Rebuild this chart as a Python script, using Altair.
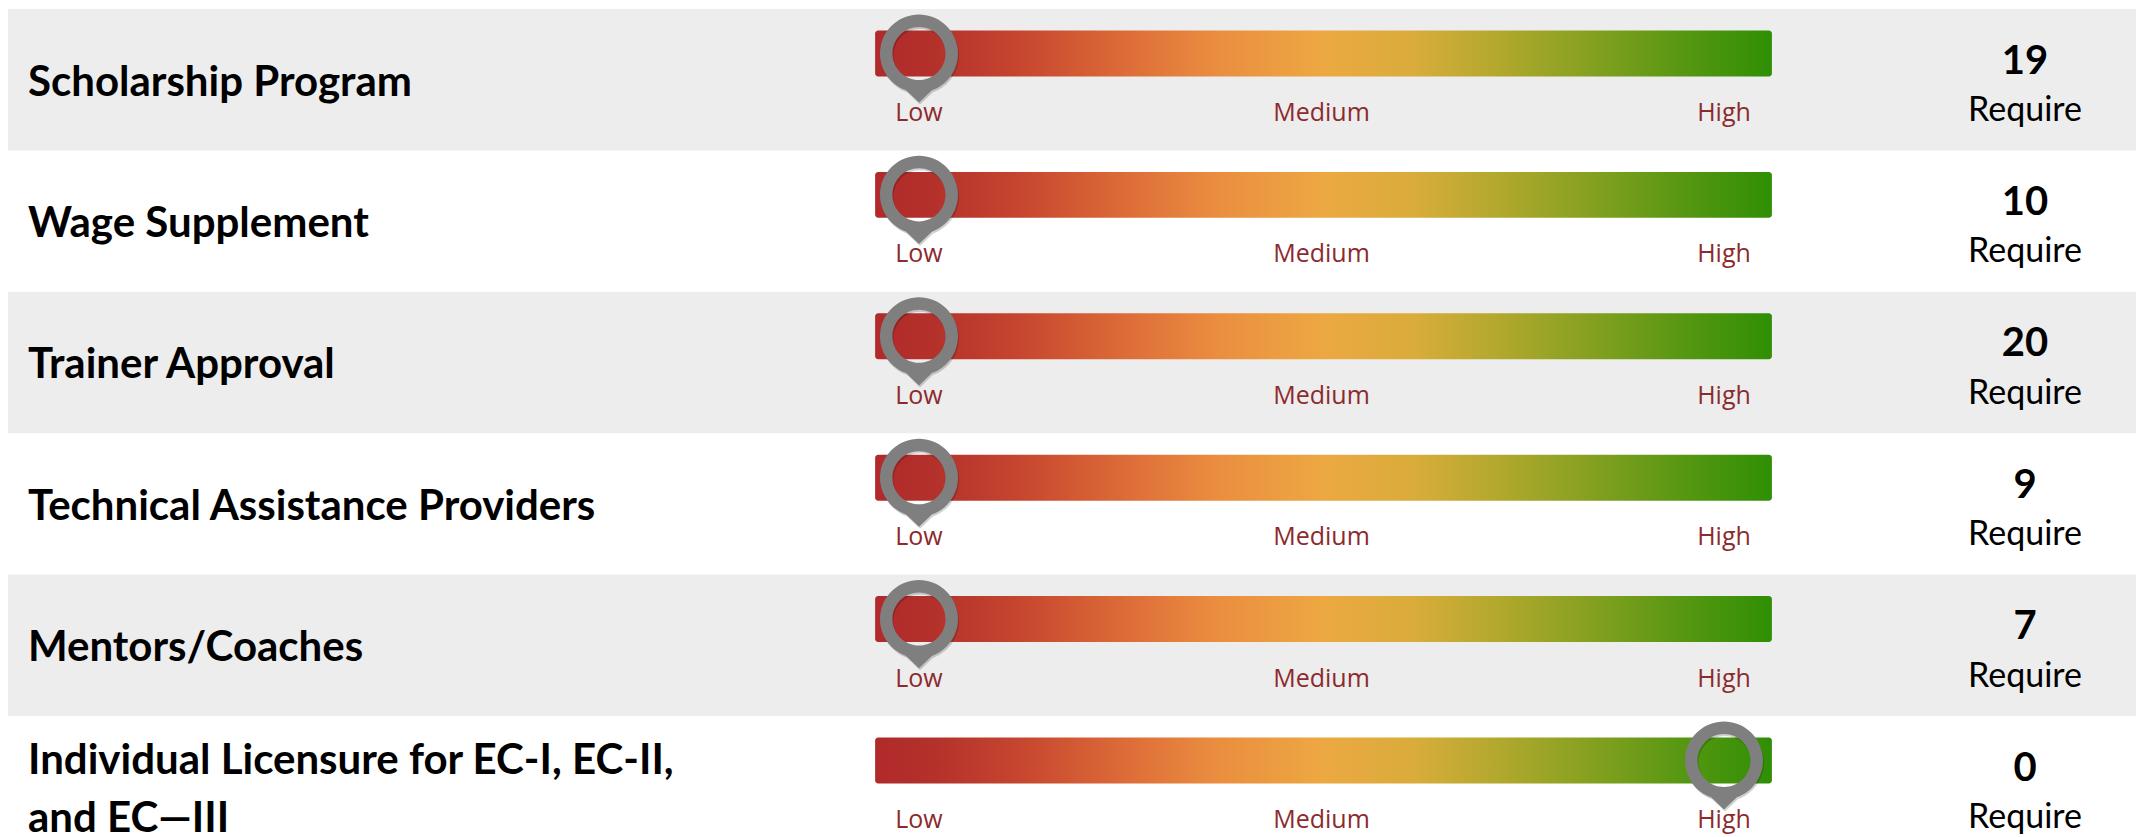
import altair as alt
import pandas as pd

# ---------------- data ----------------
programs = [
    "Scholarship Program",
    "Wage Supplement",
    "Trainer Approval",
    "Technical Assistance Providers",
    "Mentors/Coaches",
    "Individual Licensure for EC-I, EC-II,\nand EC\u2014III",
]
levels = ["Low", "Low", "Low", "Low", "Low", "High"]
require_counts = [19, 10, 20, 9, 7, 0]
require_word = "Require"
scale_labels = ["Low", "Medium", "High"]

# ---------------- layout / style ----------------
W, H = 2136, 837
ROW_PX = 141.4      # pixel height of one row
TOP_PX = 9          # top of first row
X0_PX = 919         # pixel of level "Low"
STEP_PX = 402.5     # pixels per level step
BAR_START, BAR_END = -0.109, 2.119   # bar extent in level units
BAR_TOP, BAR_BOT = 0.152, 0.477      # bar extent within row (fraction)
LABEL_Y = 0.735
COUNT_Y = 0.372
REQ_Y = 0.722
NAME_Y = 0.52
NAME_LH = 58
BAND_GREY = "#EDEDED"
LEVEL_COLOR = "#8C2A2E"
PIN_COLOR = "#7F7F7F"

PIN_PATH = (
    "M-0.33,0.944 A1,1,0,1,1,0.33,0.944 L0,1.26 Z "
    "M0,-0.68 A0.68,0.68,0,1,0,0,0.68 A0.68,0.68,0,1,0,0,-0.68 Z"
)

rows_df = pd.DataFrame({
    "row": list(range(len(programs))),
    "program": programs,
    "level": levels,
    "count": require_counts,
    "req": [require_word] * len(programs),
})
scale_df = pd.DataFrame(
    [(r, i, lab) for r in range(len(programs)) for i, lab in enumerate(scale_labels)],
    columns=["row", "pos", "label"],
)

x_scale = alt.Scale(domain=[-X0_PX / STEP_PX, (W - X0_PX) / STEP_PX], nice=False, zero=False)
y_scale = alt.Scale(domain=[-TOP_PX / ROW_PX, (H - TOP_PX) / ROW_PX], nice=False, zero=False, reverse=True)

def Y(field):
    return alt.Y(field, type="quantitative", scale=y_scale, axis=None)

def X(field):
    return alt.X(field, type="quantitative", scale=x_scale, axis=None)

base = alt.Chart(rows_df)

bands = base.mark_rect(color=BAND_GREY).transform_filter(
    "datum.row % 2 == 0"
).transform_calculate(
    y1="datum.row", y2="datum.row + 1"
).encode(x=alt.value(8), x2=alt.value(W), y=Y("y1"), y2="y2:Q")

grad = alt.LinearGradient(
    gradient="linear", x1=0, x2=1, y1=0, y2=0,
    stops=[
        alt.GradientStop(color="#B02A2A", offset=0.0),
        alt.GradientStop(color="#B3302B", offset=0.06),
        alt.GradientStop(color="#C6452F", offset=0.16),
        alt.GradientStop(color="#DD6C38", offset=0.28),
        alt.GradientStop(color="#EA8D3F", offset=0.38),
        alt.GradientStop(color="#EDA842", offset=0.5),
        alt.GradientStop(color="#D9AC3B", offset=0.6),
        alt.GradientStop(color="#B0A82D", offset=0.7),
        alt.GradientStop(color="#84A020", offset=0.8),
        alt.GradientStop(color="#579712", offset=0.9),
        alt.GradientStop(color="#2F8F04", offset=1.0),
    ],
)

bars = base.mark_rect(fill=grad, cornerRadius=3).transform_calculate(
    bx1=f"{BAR_START}", bx2=f"{BAR_END}",
    by1=f"datum.row + {BAR_TOP}", by2=f"datum.row + {BAR_BOT}",
).encode(x=X("bx1"), x2="bx2:Q", y=Y("by1"), y2="by2:Q")

level_labels = alt.Chart(scale_df).mark_text(
    font="Open Sans", fontSize=25, color=LEVEL_COLOR, align="center", baseline="middle"
).transform_calculate(
    ty=f"datum.row + {LABEL_Y}"
).encode(x=X("pos"), y=Y("ty"), text="label:N")

lvl_expr = "indexof(" + str(scale_labels) + ", datum.level)"
pin_calc = dict(px=lvl_expr, py=f"datum.row + {(BAR_TOP + BAR_BOT) / 2}")

pin_shadow = base.mark_point(
    shape=PIN_PATH, filled=True, color="black", opacity=0.18, size=6084,
    strokeWidth=0, xOffset=1, yOffset=2,
).transform_calculate(**pin_calc).encode(x=X("px"), y=Y("py"))

pins = base.mark_point(
    shape=PIN_PATH, filled=True, color=PIN_COLOR, opacity=1, size=6084, strokeWidth=0,
).transform_calculate(**pin_calc).encode(x=X("px"), y=Y("py"))

names = base.mark_text(
    align="left", baseline="middle", font="Lato", fontWeight="bold", fontSize=42,
    lineBreak="\n", lineHeight=NAME_LH, color="black",
).transform_calculate(
    ty=f"datum.row + {NAME_Y} - (length(split(datum.program, '\\n')) - 1) * {NAME_LH / 2} / {ROW_PX}"
).encode(x=alt.value(28), y=Y("ty"), text="program:N")

counts = base.mark_text(
    align="center", baseline="middle", font="Lato", fontWeight="bold", fontSize=40, color="black",
).transform_calculate(ty=f"datum.row + {COUNT_Y}").encode(
    x=alt.value(2025), y=Y("ty"), text="count:Q"
)

reqs = base.mark_text(
    align="center", baseline="middle", font="Lato", fontSize=34, color="black",
).transform_calculate(ty=f"datum.row + {REQ_Y}").encode(
    x=alt.value(2025), y=Y("ty"), text="req:N"
)

chart = alt.layer(
    bands, bars, level_labels, pin_shadow, pins, names, counts, reqs
).properties(
    width=W, height=H, autosize="none", padding=0, background="white"
).configure_view(stroke=None)

chart.save("out.html", embed_options={"renderer": "svg", "actions": False})
